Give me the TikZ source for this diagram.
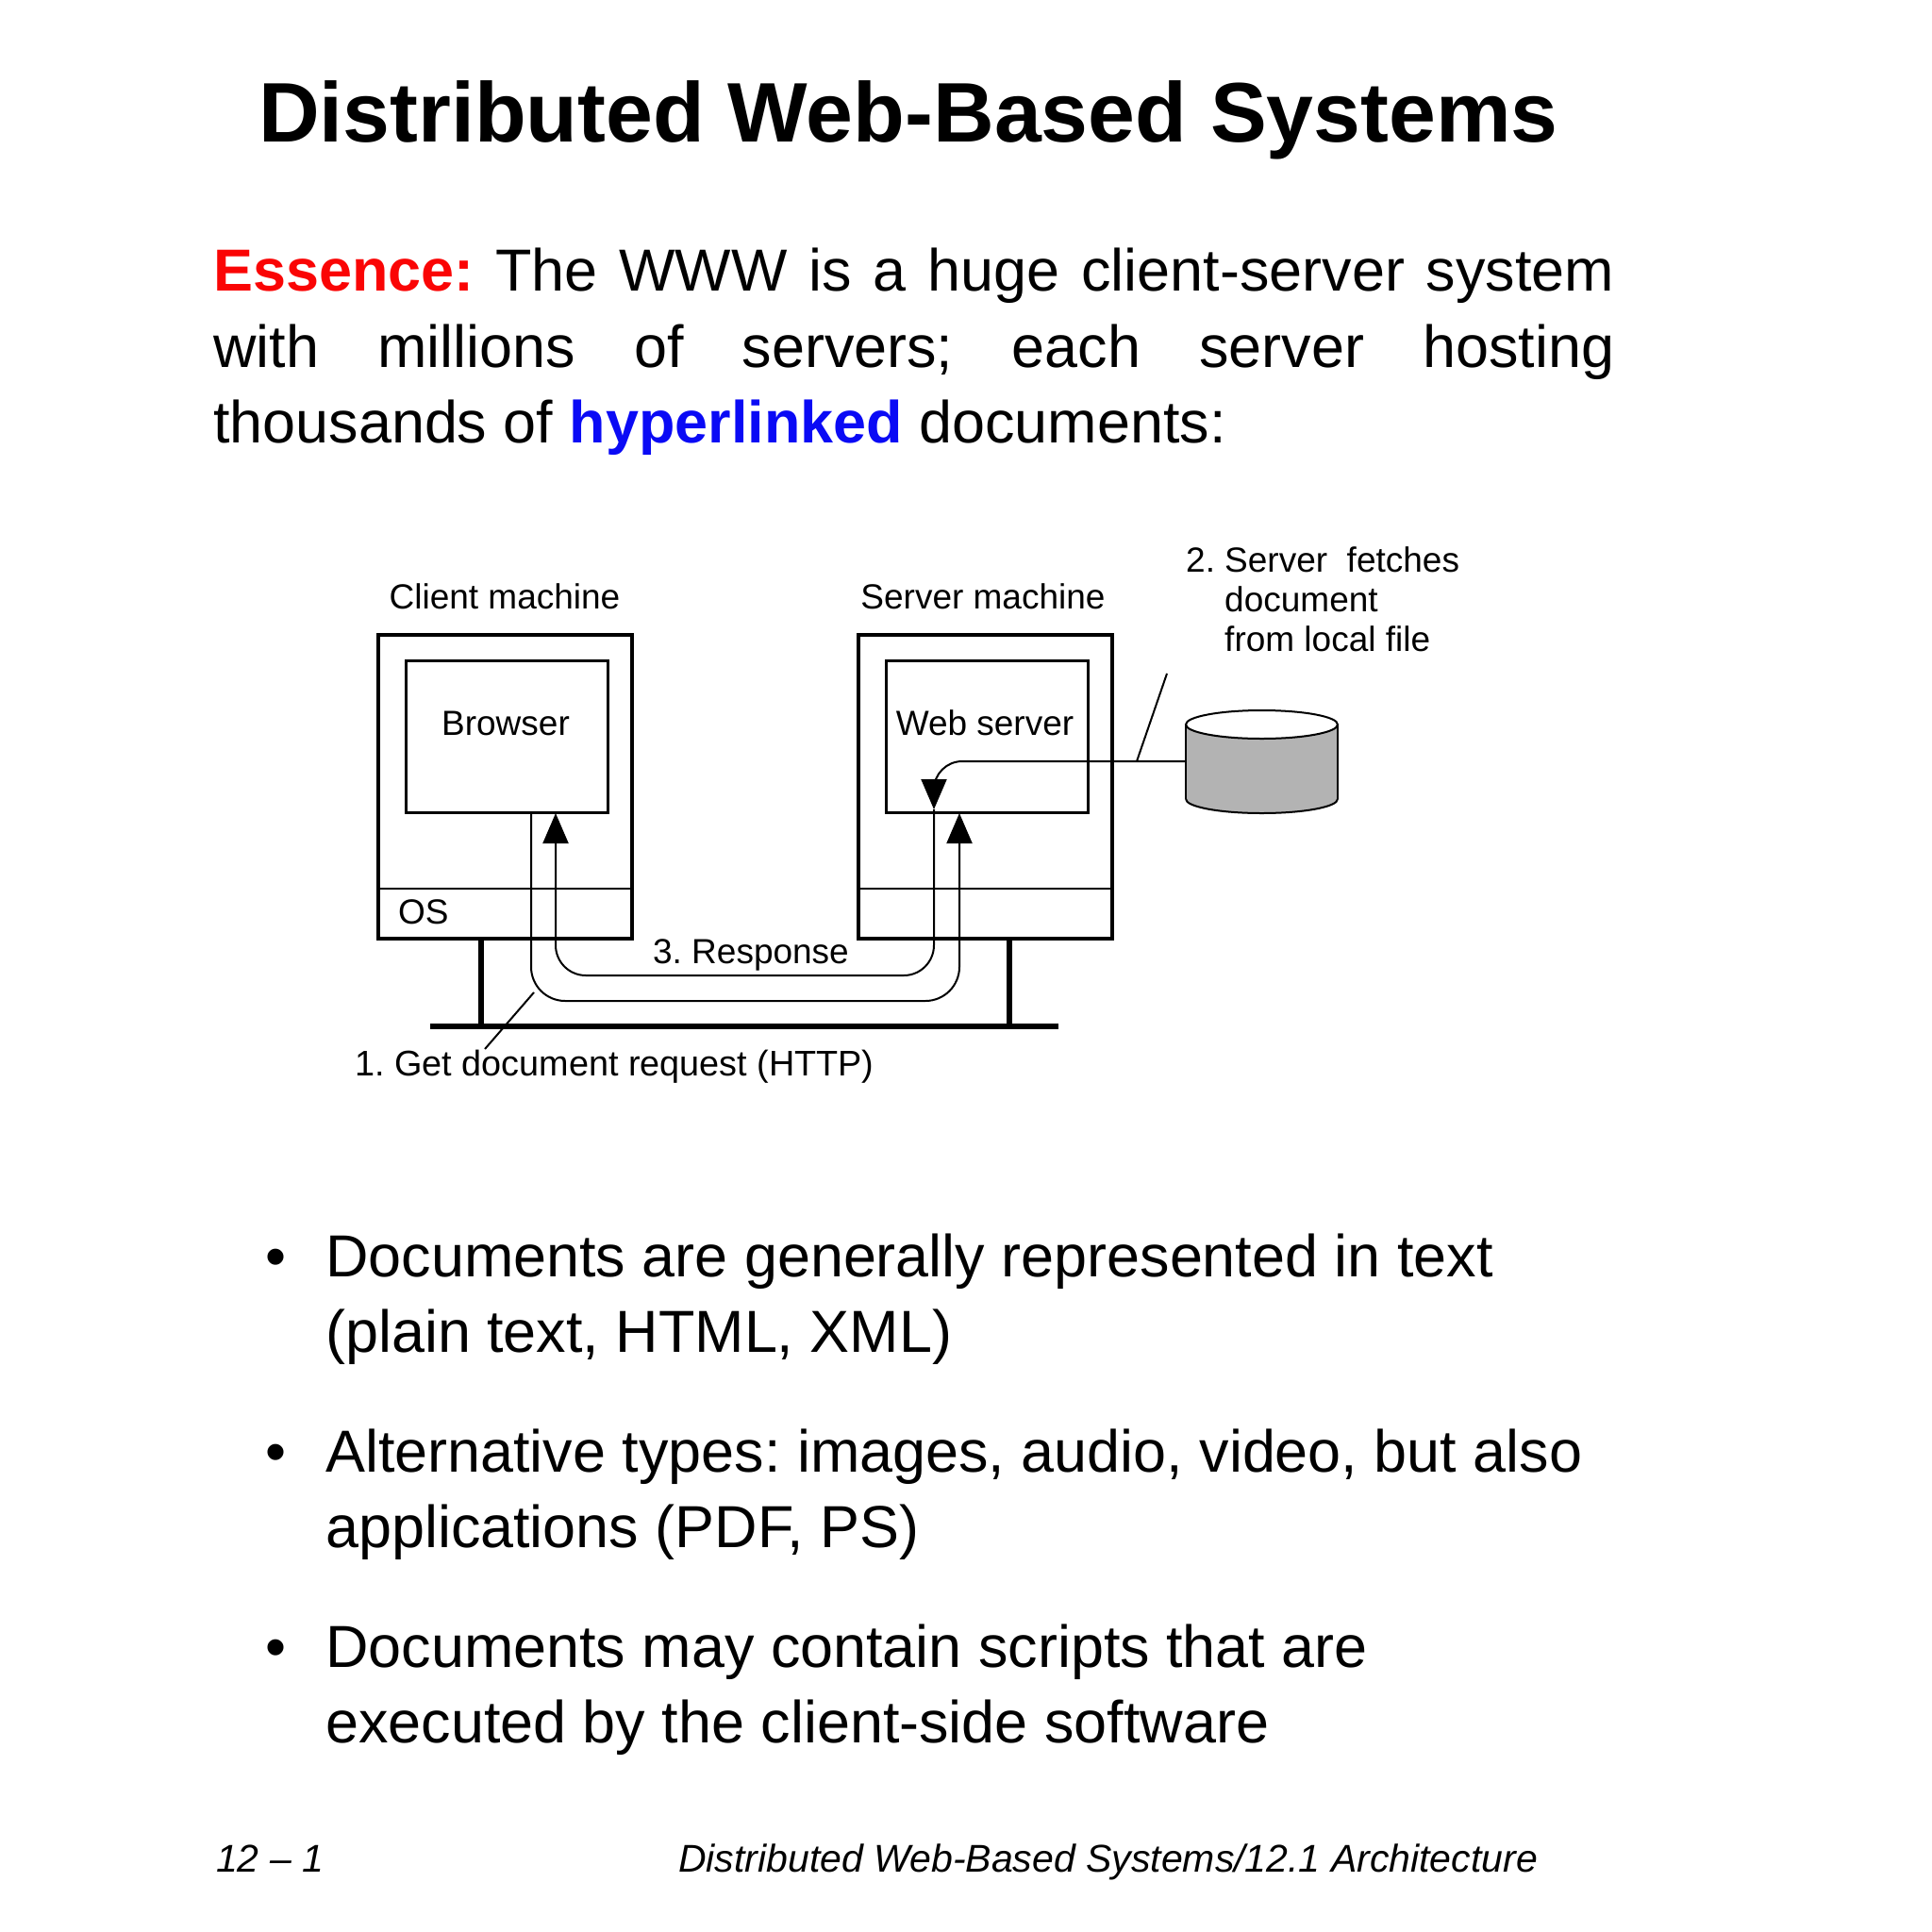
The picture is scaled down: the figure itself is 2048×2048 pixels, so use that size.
\documentclass[tikz,border=0pt]{standalone}
\usepackage{fontspec}
\setmainfont{Liberation Sans}
\usetikzlibrary{arrows.meta}
\frenchspacing
\definecolor{essred}{RGB}{250,5,5}
\definecolor{linkblue}{RGB}{10,10,245}
\definecolor{diskgray}{RGB}{179,179,179}
\begin{document}
\frenchspacing
\begin{tikzpicture}[x=1pt,y=-1pt,
  machine/.style={draw, line width=4pt, inner sep=0pt, outer sep=0pt, minimum width=269pt, minimum height=322pt, anchor=north west},
  prog/.style={draw, line width=3pt, inner sep=0pt, outer sep=0pt, minimum width=214pt, minimum height=161pt, anchor=north west},
  lbl/.style={font=\fontsize{37}{42}\selectfont, inner sep=0pt, anchor=base},
  body/.style={font=\fontsize{62.9}{75}\selectfont, inner sep=0pt, anchor=base west},
  foot/.style={font=\fontsize{41}{48}\selectfont\itshape, inner sep=0pt, anchor=base west},
  flow/.style={line width=2pt, -{Triangle[width=27pt,length=32pt]}},
  leader/.style={line width=2pt},
  bus/.style={line width=6.5pt},
  stem/.style={line width=6pt},
  thin/.style={line width=2pt}]
\useasboundingbox (0,0) rectangle (2048,2048);

% title and text
\node[inner sep=0pt, anchor=base west, font=\fontsize{89.6}{100}\selectfont\bfseries] (title) at (274,150) {Distributed Web-Based Systems};
\node[body] (ess1) at (226,308) {\makebox[1485pt][s]{\textcolor{essred}{\bfseries Essence:} The WWW is a huge client-server system}};
\node[body] (ess2) at (226,389) {\makebox[1485pt][s]{with millions of servers; each server hosting}};
\node[body] (ess3) at (226,469) {thousands of \textcolor{linkblue}{\bfseries hyperlinked} documents:};

% machines
\node[machine] (client) at (401,673) {};
\node[machine] (server) at (910,673) {};
\node[prog] (browser) at (430,700) {};
\node[prog] (websrv) at (939,700) {};
\draw[thin] (401,942) -- (670,942);
\draw[thin] (910,942) -- (1179,942);

\node[lbl] (clientlbl) at (535,645) {Client machine};
\node[lbl] (serverlbl) at (1042,645) {Server machine};
\node[lbl] (browsertxt) at (536,779) {Browser};
\node[lbl] (webtxt) at (1044,779) {Web server};
\node[lbl, anchor=base west] (ostxt) at (422,979) {OS};

% network
\coordinate (busL) at (456,1088);
\coordinate (busR) at (1122,1088);
\draw[bus] (busL) -- (busR);
\coordinate (cstem) at (510,995);
\coordinate (sstem) at (1070,995);
\draw[stem] (cstem) -- (cstem |- busL);
\draw[stem] (sstem) -- (sstem |- busL);

% disk
\fill[diskgray] (1257,768) rectangle (1418,847);
\fill[diskgray] (1337.5,847) ellipse[x radius=80.5, y radius=15];
\draw[thin] (1257,768) -- (1257,847);
\draw[thin] (1418,768) -- (1418,847);
\draw[thin] (1257,847) arc[start angle=180, end angle=0, x radius=80.5, y radius=15];
\filldraw[thin, fill=white] (1337.5,768) ellipse[x radius=80.5, y radius=15];
\node[inner sep=0pt, outer sep=0pt, minimum width=161pt, minimum height=109pt] (disk) at (1337.5,807) {};

% flows
\coordinate (reqS) at (563,861);
\coordinate (reqE) at (1017,862);
\draw[flow, rounded corners=36pt] (reqS) -- (563,1061) -- (1017,1061) -- (reqE);
\coordinate (respS) at (990,858);
\coordinate (respE) at (589,862);
\draw[flow, rounded corners=32pt] (respS) -- (990,1034) -- (589,1034) -- (respE);
\draw[flow, rounded corners=30pt] (disk.west) -- (990,807) -- (respS);

\node[lbl] (resp) at (796,1021) {3. Response};
\node[lbl, anchor=base west, font=\fontsize{37.8}{42}\selectfont] (req) at (376,1140) {1. Get document request (HTTP)};
\coordinate (reqLa) at (566,1052);
\coordinate (reqLb) at (514,1112);
\draw[leader] (reqLa) -- (reqLb);

\node[lbl, anchor=base west] (step2n) at (1257,606) {2.};
\node[lbl, anchor=base west] (step2a) at (1298,606) {Server\ \ fetches};
\node[lbl, anchor=base west] (step2b) at (1298,648) {document};
\node[lbl, anchor=base west] (step2c) at (1298,690) {from local file};
\coordinate (dLa) at (1205,807);
\coordinate (dLb) at (1237,714);
\draw[leader] (dLa) -- (dLb);

% bullets
\node[body, anchor=base] (b1) at (293,1353) {•};
\node[body] (b1a) at (345,1353) {Documents are generally represented in text};
\node[body] (b1b) at (345,1433) {(plain text, HTML, XML)};
\node[body, anchor=base] (b2) at (293,1560) {•};
\node[body] (b2a) at (345,1560) {Alternative types: images, audio, video, but also};
\node[body] (b2b) at (345,1640) {applications (PDF, PS)};
\node[body, anchor=base] (b3) at (293,1767) {•};
\node[body] (b3a) at (345,1767) {Documents may contain scripts that are};
\node[body] (b3b) at (345,1847) {executed by the client-side software};

% footer
\node[foot] (pg) at (229,1984) {12 – 1};
\node[foot] (sect) at (719,1984) {Distributed Web-Based Systems/12.1 Architecture};
\end{tikzpicture}
\end{document}
